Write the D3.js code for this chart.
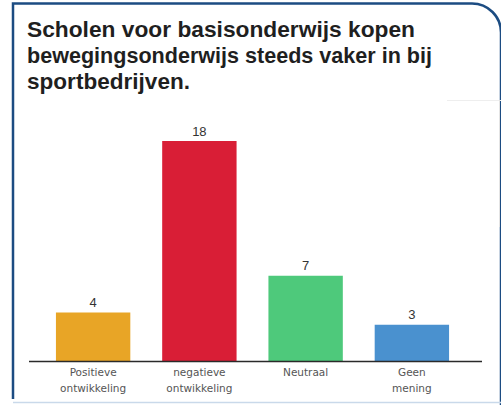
<!DOCTYPE html>
<html>
<head>
<meta charset="utf-8">
<script src="https://cdn.jsdelivr.net/npm/d3@7"></script>
<style>
  html, body { margin: 0; padding: 0; background: #fff; }
  svg { display: block; }
</style>
</head>
<body>
<svg id="chart" width="501" height="405"></svg>
<script>
const titleLines = ["Scholen voor basisonderwijs kopen", "bewegingsonderwijs steeds vaker in bij", "sportbedrijven."];
const categories = ["Positieve\nontwikkeling", "negatieve\nontwikkeling", "Neutraal", "Geen\nmening"];
const values = [4, 18, 7, 3];
const colors = ["#E8A526", "#D91E36", "#4EC97B", "#4A91CF"];

// rendered widths of the title lines (layout only)
const titleWidths = [388, 405, 163];

const svg = d3.select("#chart");

// frame
svg.append("path")
  .attr("d", "M13,399 V3.5 H472 A29,29 0 0 1 501,32.5 V405")
  .attr("fill", "none").attr("stroke", "#1C4C82").attr("stroke-width", 2.5);
svg.append("line").attr("x1", 13).attr("x2", 501).attr("y1", 402.5).attr("y2", 402.5)
  .attr("stroke", "#c9d9ea").attr("stroke-width", 1.5);
// faint artefact lines on the right
svg.append("line").attr("x1", 447).attr("x2", 501).attr("y1", 100.5).attr("y2", 100.5)
  .attr("stroke", "#eeeeee").attr("stroke-width", 1);
svg.append("line").attr("x1", 499.5).attr("x2", 499.5).attr("y1", 100).attr("y2", 227)
  .attr("stroke", "#e4e4e4").attr("stroke-width", 1);

// title
svg.append("text")
  .attr("font-family", "'Liberation Sans', Arial, sans-serif")
  .attr("font-weight", "bold").attr("font-size", 22).attr("fill", "#1f1f1f")
  .selectAll("tspan").data(titleLines).join("tspan")
  .attr("x", 27).attr("y", (d, i) => 36.5 + i * 26)
  .attr("textLength", (d, i) => titleWidths[i])
  .attr("lengthAdjust", "spacingAndGlyphs")
  .text(d => d);

const x = d3.scaleBand().domain(categories).range([40, 465]).paddingInner(0.3).paddingOuter(0.15);
const y = d3.scaleLinear().domain([0, 18]).range([361.5, 141]);

const g = svg.append("g");
g.selectAll("rect.bar").data(values).join("rect").attr("class", "bar")
  .attr("x", (d, i) => x(categories[i]))
  .attr("width", x.bandwidth())
  .attr("y", d => y(d))
  .attr("height", d => y(0) - y(d))
  .attr("fill", (d, i) => colors[i]);

g.selectAll("text.val").data(values).join("text").attr("class", "val")
  .attr("x", (d, i) => x(categories[i]) + x.bandwidth() / 2)
  .attr("y", d => y(d) - 5.5)
  .attr("text-anchor", "middle")
  .attr("font-family", "'Liberation Sans', Arial, sans-serif")
  .attr("font-size", 13).attr("fill", "#333")
  .text(d => d);

// axis
const axis = svg.append("g").attr("transform", `translate(0,${y(0)})`)
  .call(d3.axisBottom(x).tickSize(0).tickFormat(""));
axis.select(".domain").remove();
svg.append("line").attr("x1", 29).attr("x2", 482).attr("y1", y(0)).attr("y2", y(0))
  .attr("stroke", "#2a2a2a").attr("stroke-width", 1.5);

axis.selectAll(".tick").each(function(d) {
  const t = d3.select(this).append("text")
    .attr("text-anchor", "middle")
    .attr("font-family", "'DejaVu Sans', sans-serif")
    .attr("font-size", 10.5).attr("fill", "#555");
  d.split("\n").forEach((line, i) => {
    t.append("tspan").attr("x", 0).attr("y", 14 + i * 16.5).text(line);
  });
});
</script>
</body>
</html>
